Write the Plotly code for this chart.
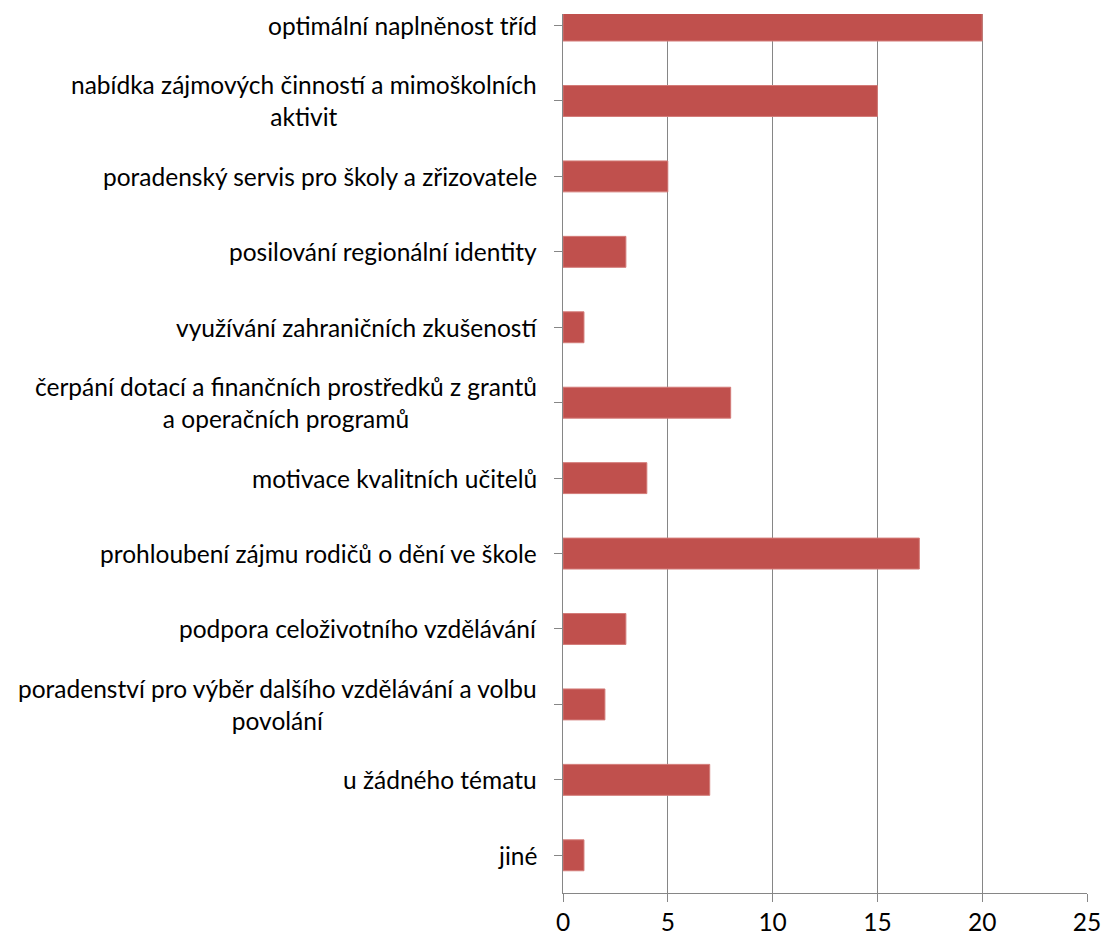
import plotly.graph_objects as go

categories = [
    "optimální naplněnost tříd",
    "nabídka zájmových činností a mimoškolních<br>aktivit",
    "poradenský servis pro školy a zřizovatele",
    "posilování regionální identity",
    "využívání zahraničních zkušeností",
    "čerpání dotací a finančních prostředků z grantů<br>a operačních programů",
    "motivace kvalitních učitelů",
    "prohloubení zájmu rodičů o dění ve škole",
    "podpora celoživotního vzdělávání",
    "poradenství pro výběr dalšího vzdělávání a volbu<br>povolání",
    "u žádného tématu",
    "jiné",
]
values = [20, 15, 5, 3, 1, 8, 4, 17, 3, 2, 7, 1]
x_ticks = [0, 5, 10, 15, 20, 25]

FONT = "Lato"
FS = 24.5
idx = list(range(len(categories)))

fig = go.Figure(go.Bar(
    x=values, y=idx, orientation="h",
    width=0.41,
    marker=dict(color="#C0504D", line=dict(color="#D37B78", width=1)),
    hoverinfo="skip",
))

for i, c in zip(idx, categories):
    fig.add_annotation(
        x=0, xref="paper", y=i, yref="y", text=c, showarrow=False,
        xanchor="right", yanchor="middle", align="center", xshift=-24,
        font=dict(family=FONT, size=FS, color="#000000"),
    )

fig.update_layout(
    width=1103, height=937,
    margin=dict(l=563, r=16, t=14, b=44, autoexpand=False),
    paper_bgcolor="white", plot_bgcolor="white",
    showlegend=False,
    font=dict(family=FONT, size=FS, color="#000000"),
)
fig.update_xaxes(
    range=[0, 25], tickvals=x_ticks, ticks="outside", ticklen=8, tickcolor="#868686",
    showgrid=True, gridcolor="#868686", gridwidth=1,
    showline=True, linecolor="#868686", linewidth=1, zeroline=False,
    ticklabeloverflow="allow", automargin=False,
    tickfont=dict(family=FONT, size=FS, color="#000000"),
)
fig.update_yaxes(
    range=[11.5, -0.153], tickvals=idx, showticklabels=False,
    ticks="outside", ticklen=8, tickcolor="#868686", tickson="boundaries",
    type="linear", showgrid=False, showline=True, linecolor="#868686", linewidth=1,
    zeroline=False, automargin=False,
)

fig.write_html(
    "out.html",
    config={"displayModeBar": False},
    post_script="document.documentElement.style.overflow='hidden';"
                "document.body.style.margin='0';document.body.style.overflow='hidden';",
)
